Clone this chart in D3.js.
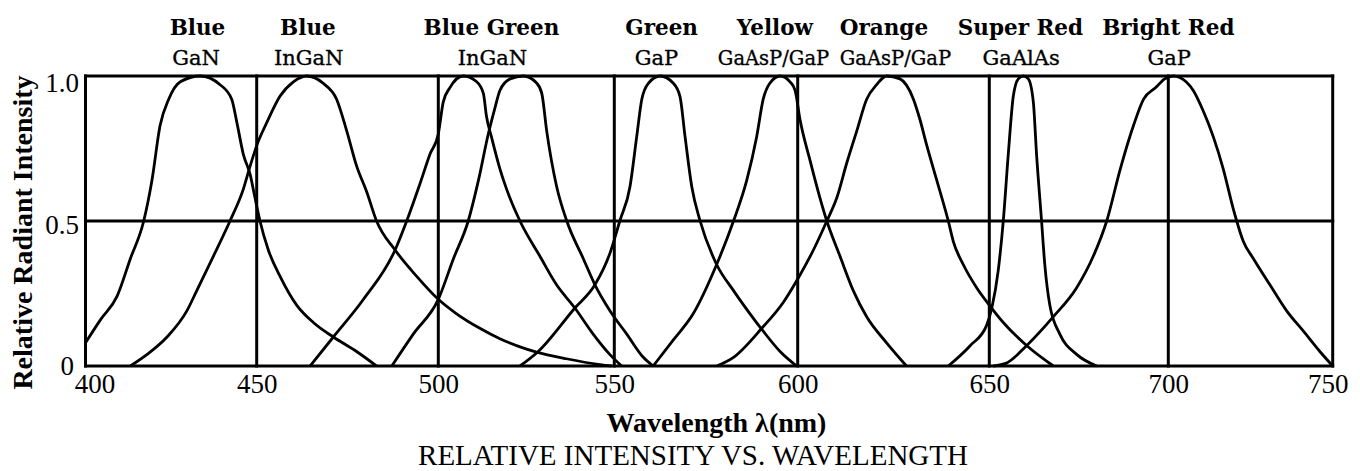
<!DOCTYPE html>
<html><head><meta charset="utf-8">
<script src="https://cdn.jsdelivr.net/npm/d3@7"></script>
<style>body{margin:0;background:#fff}svg{display:block}</style>
</head><body><svg id="c" width="1360" height="471"></svg>
<script>
// ---------- data ----------
const xTicks = [400, 450, 500, 550, 600, 650, 700, 750];
const yTicks = [0, 0.5, 1.0];
const yTickLabels = ["0", "0.5", "1.0"];
const ledColors = ["Blue", "Blue", "Blue Green", "Green", "Yellow", "Orange", "Super Red", "Bright Red"];
const ledMaterials = ["GaN", "InGaN", "InGaN", "GaP", "GaAsP/GaP", "GaAsP/GaP", "GaAlAs", "GaP"];
const colorLabelNm = [432.7, 464.1, 515.1, 562.9, 593.8, 622.5, 658.7, 700];
const materialLabelNm = [432.3, 464.3, 515.4, 561.5, 593.4, 625.5, 658.9, 700.3];
const xTitle = "Wavelength \u03bb(nm)";
const yTitle = "Relative Radiant Intensity";
const chartTitle = "RELATIVE INTENSITY VS. WAVELENGTH";

const blueGaN = [[400,0.08],[404.4,0.16],[409.2,0.24],[413.1,0.37],[417.0,0.50],[419.4,0.64],[421.8,0.83],[424.3,0.92],[427.7,0.98],[433.5,1.0],[439.3,0.97],[442.7,0.92],[444.2,0.84],[446.1,0.73],[448.1,0.66],[449.5,0.58],[450.9,0.50],[453.2,0.40],[456.4,0.31],[461.0,0.21],[465.6,0.15],[471.1,0.10],[477.5,0.05],[483.0,0]];
const blueInGaN = [[413.1,0],[418.0,0.04],[423.8,0.10],[429.6,0.19],[432.5,0.26],[437.4,0.38],[442.2,0.50],[446.1,0.61],[448.1,0.69],[450,0.76],[452.8,0.84],[456.4,0.93],[460.1,0.98],[463.8,1.0],[468.3,0.975],[472.0,0.92],[474.8,0.81],[477.5,0.69],[480.3,0.60],[483.0,0.50],[488.1,0.40],[494.0,0.31],[500,0.23],[505.2,0.18],[511.8,0.13],[517.5,0.094],[523.2,0.066],[527.9,0.048],[536.4,0.025],[545.9,0.005],[549.2,0]];
const blueGreen1 = [[464.7,0],[471.1,0.10],[479.4,0.23],[488.1,0.40],[491.3,0.50],[495.0,0.63],[497.7,0.73],[500,0.80],[501.4,0.91],[503.3,0.96],[507.1,1.0],[510.9,0.98],[512.8,0.94],[513.7,0.86],[515.1,0.79],[517.5,0.68],[519.4,0.61],[523.2,0.50],[528.8,0.38],[533.6,0.28],[538.8,0.20],[544.0,0.11],[548.7,0.04],[552.0,0]];
const blueGreen2 = [[487.2,0],[493.1,0.11],[500,0.23],[504.3,0.37],[508.5,0.50],[511.4,0.64],[514.2,0.80],[516.1,0.89],[517.5,0.95],[520.4,0.99],[524.2,1.0],[528.0,0.975],[529.4,0.94],[530.8,0.81],[533.6,0.62],[536.5,0.50],[541.2,0.37],[544.5,0.28],[548.8,0.19],[553.4,0.11],[557.9,0.03],[560.6,0]];
const greenGaP = [[523.2,0],[528.4,0.05],[538.8,0.20],[544.5,0.28],[548.8,0.39],[551.5,0.50],[554.3,0.62],[556.1,0.79],[557.5,0.92],[559.3,0.975],[562.5,1.0],[566.1,0.975],[567.9,0.93],[569.3,0.79],[571.1,0.62],[573.4,0.50],[577.9,0.35],[582.5,0.26],[587.0,0.18],[590.6,0.12],[595.2,0.05],[599.7,0]];
const yellowGaAsP = [[560.6,0],[566.1,0.09],[571.5,0.18],[577.9,0.35],[582.5,0.50],[586.1,0.64],[588.8,0.79],[590.6,0.92],[592.4,0.975],[595.2,1.0],[597.9,0.98],[599.3,0.95],[600.6,0.85],[603.2,0.71],[605.8,0.58],[607.6,0.50],[611.0,0.38],[614.5,0.26],[618.0,0.17],[623.2,0.08],[628.4,0]];
const orangeGaAsP = [[577.9,0],[582.5,0.03],[590.2,0.13],[596.1,0.22],[600,0.30],[604.1,0.40],[607.6,0.50],[610.2,0.58],[612.8,0.70],[615.4,0.81],[618.0,0.92],[620.6,0.97],[623.2,1.0],[626.7,0.99],[630.2,0.92],[631.9,0.85],[633.7,0.76],[636.3,0.64],[639.3,0.50],[640.6,0.43],[643.2,0.35],[646.7,0.27],[650,0.21],[653.9,0.15],[660.5,0.07],[667.9,0]];
const superRedGaAlAs = [[639.3,0],[645.0,0.07],[649.3,0.14],[650.7,0.20],[652.5,0.33],[653.9,0.50],[655.3,0.73],[656.7,0.93],[658.1,0.99],[659.5,1.0],[660.9,0.99],[662.3,0.91],[663.2,0.73],[664.6,0.50],[665.5,0.35],[666.9,0.21],[669.7,0.11],[674.4,0.04],[680.0,0]];
const brightRedGaP = [[651.1,0],[654.8,0.01],[660.4,0.07],[667.9,0.17],[674.4,0.27],[679.1,0.38],[682.8,0.50],[686.6,0.68],[690.3,0.83],[693.1,0.92],[696.5,0.96],[699,0.99],[701.5,1.0],[703.5,0.995],[707.6,0.95],[710.6,0.88],[713.7,0.79],[716.7,0.68],[719.8,0.54],[720.8,0.50],[722.8,0.43],[725.9,0.37],[730.9,0.28],[736.0,0.19],[741.1,0.12],[746.1,0.05],[750,0]];
const spectra = [blueGaN, blueInGaN, blueGreen1, blueGreen2, greenGaP, yellowGaAsP, orangeGaAsP, superRedGaAlAs, brightRedGaP];

// ---------- layout ----------
const svg = d3.select("#c");
// hand-drawn grid is slightly uneven: piecewise linear x scale through the gridlines
const gridPx = [85.5, 256.7, 438.3, 614.3, 797.7, 989.3, 1168.3, 1332.7];
const x = d3.scaleLinear().domain(xTicks).range(gridPx);
const y = d3.scaleLinear().domain([0, 1]).range([366, 76]);
const serif = "'Liberation Serif','Times New Roman',serif";
const wide = "'DejaVu Serif',serif";

const grid = svg.append("g").attr("stroke", "#000").attr("stroke-width", 3);
grid.selectAll(".v").data(xTicks).join("line")
  .attr("x1", d => x(d)).attr("x2", d => x(d))
  .attr("y1", y(0) + 1.5).attr("y2", y(1) - 1.5);
grid.selectAll(".h").data(yTicks).join("line")
  .attr("x1", x(400) - 1.5).attr("x2", x(750) + 1.5)
  .attr("y1", d => y(d)).attr("y2", d => y(d));

const line = d3.line().x(d => x(d[0])).y(d => y(d[1])).curve(d3.curveMonotoneX);
svg.append("g").selectAll("path").data(spectra).join("path")
  .attr("d", line).attr("fill", "none").attr("stroke", "#000")
  .attr("stroke-width", 2.8).attr("stroke-linejoin", "round");

// x tick labels via d3 axis
const xAxis = svg.append("g").attr("transform", `translate(0,${y(0)})`)
  .call(d3.axisBottom(x).tickValues(xTicks).tickSize(0).tickPadding(0).tickFormat(d3.format("d")));
xAxis.select(".domain").remove();
xAxis.selectAll("text").attr("font-family", serif).attr("font-size", 27).attr("fill", "#000")
  .attr("dy", 0).attr("y", 27)
  .attr("dx", (d, i) => i === 0 ? 9 : (i === xTicks.length - 1 ? -5 : 0));

// y tick labels
svg.append("g").selectAll("text").data(yTicks).join("text")
  .attr("x", d => d === 0 ? 74 : 79)
  .attr("y", d => y(d) + (d === 1 ? 16 : d === 0.5 ? 13 : 9))
  .attr("text-anchor", "end").attr("font-family", serif).attr("font-size", 27)
  .text((d, i) => yTickLabels[i]);

// LED labels
svg.append("g").selectAll("text").data(ledColors).join("text")
  .attr("x", (d, i) => x(colorLabelNm[i])).attr("y", 35)
  .attr("text-anchor", "middle").attr("font-family", wide).attr("font-weight", "bold")
  .attr("font-size", 21.5).text(d => d);
svg.append("g").selectAll("text").data(ledMaterials).join("text")
  .attr("x", (d, i) => x(materialLabelNm[i])).attr("y", 65)
  .attr("text-anchor", "middle").attr("font-family", wide)
  .attr("stroke", "#000").attr("stroke-width", 0.35)
  .attr("font-size", d => d.length > 6 ? 19.5 : 21).text(d => d);

// titles
svg.append("text").attr("transform", "translate(32,232.5) rotate(-90)")
  .attr("text-anchor", "middle").attr("font-family", serif).attr("font-weight", "bold")
  .attr("font-size", 28).text(yTitle);
svg.append("text").attr("x", 716.5).attr("y", 432)
  .attr("text-anchor", "middle").attr("font-family", serif).attr("font-weight", "bold")
  .attr("font-size", 28).text(xTitle);
svg.append("text").attr("x", 693).attr("y", 465)
  .attr("text-anchor", "middle").attr("font-family", serif)
  .attr("font-size", 29).text(chartTitle);
</script></body></html>
